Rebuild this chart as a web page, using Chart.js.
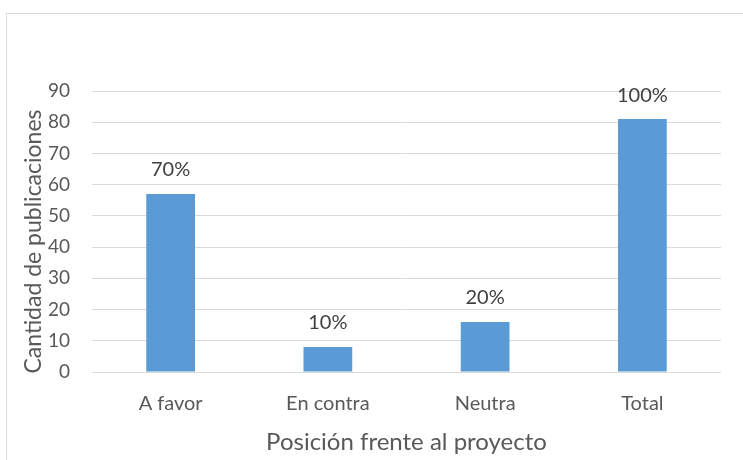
<!DOCTYPE html>
<html>
<head>
<meta charset="utf-8">
<script src="https://cdn.jsdelivr.net/npm/chart.js@4"></script>
<style>
  html, body { margin: 0; padding: 0; background: #fff; }
  #wrap { width: 743px; height: 460px; position: relative; }
</style>
</head>
<body>
<div id="wrap"><canvas id="chart"></canvas></div>
<script>
// data
const categories = ['A favor', 'En contra', 'Neutra', 'Total'];
const publicaciones = [57, 8, 16, 81];
const percentLabels = ['70%', '10%', '20%', '100%'];
const yTicks = [0, 10, 20, 30, 40, 50, 60, 70, 80, 90];
const yTitle = 'Cantidad de publicaciones';

const font = "Lato, 'Open Sans', sans-serif";
const grey = '#595959';

// frame round the chart, cut off at right and bottom like the original
const frame = {
  id: 'frame',
  beforeDraw(chart) {
    const ctx = chart.ctx;
    ctx.save();
    ctx.strokeStyle = '#d9d9d9';
    ctx.lineWidth = 1;
    ctx.strokeRect(6.5, 13.5, 800, 500);
    ctx.restore();
  }
};

// percent labels above each bar, and the y title a bit lower than chart.js centres it
const barLabels = {
  id: 'barLabels',
  afterDatasetsDraw(chart) {
    const ctx = chart.ctx;
    const meta = chart.getDatasetMeta(0);
    ctx.save();
    ctx.font = '20px ' + font;
    ctx.fillStyle = '#404040';
    ctx.textAlign = 'center';
    ctx.textBaseline = 'middle';
    meta.data.forEach((bar, i) => {
      ctx.fillText(percentLabels[i], bar.x, bar.y - 24);
    });
    const area = chart.chartArea;
    ctx.translate(34, (area.top + area.bottom) / 2 + 10);
    ctx.rotate(-Math.PI / 2);
    ctx.font = '23px ' + font;
    ctx.fillStyle = grey;
    ctx.fillText(yTitle, 0, 0);
    ctx.restore();
  }
};

new Chart(document.getElementById('chart'), {
  type: 'bar',
  data: {
    labels: categories,
    datasets: [{
      data: publicaciones,
      backgroundColor: '#5b9bd5',
      categoryPercentage: 1,
      barPercentage: 0.31
    }]
  },
  options: {
    responsive: true,
    maintainAspectRatio: false,
    animation: false,
    layout: { padding: { top: 91, right: 22, bottom: 0, left: 0 } },
    plugins: {
      legend: { display: false },
      tooltip: { enabled: false }
    },
    scales: {
      x: {
        afterFit(axis) { axis.height = 88; },
        grid: { display: false },
        border: { display: false },
        ticks: { color: grey, font: { family: font, size: 20 }, padding: 12 },
        title: {
          display: true,
          text: 'Posición frente al proyecto',
          color: grey,
          font: { family: font, size: 24 },
          padding: { top: 3, bottom: 3 }
        }
      },
      y: {
        min: 0,
        max: 90,
        afterBuildTicks(axis) {
          axis.ticks = yTicks.map(v => ({ value: v }));
        },
        afterFit(axis) { axis.width = 92; },
        grid: { color: '#d9d9d9', lineWidth: 1, drawTicks: false },
        border: { display: false },
        ticks: { color: grey, font: { family: font, size: 19 }, padding: 22 }
      }
    }
  },
  plugins: [frame, barLabels]
});
</script>
</body>
</html>
